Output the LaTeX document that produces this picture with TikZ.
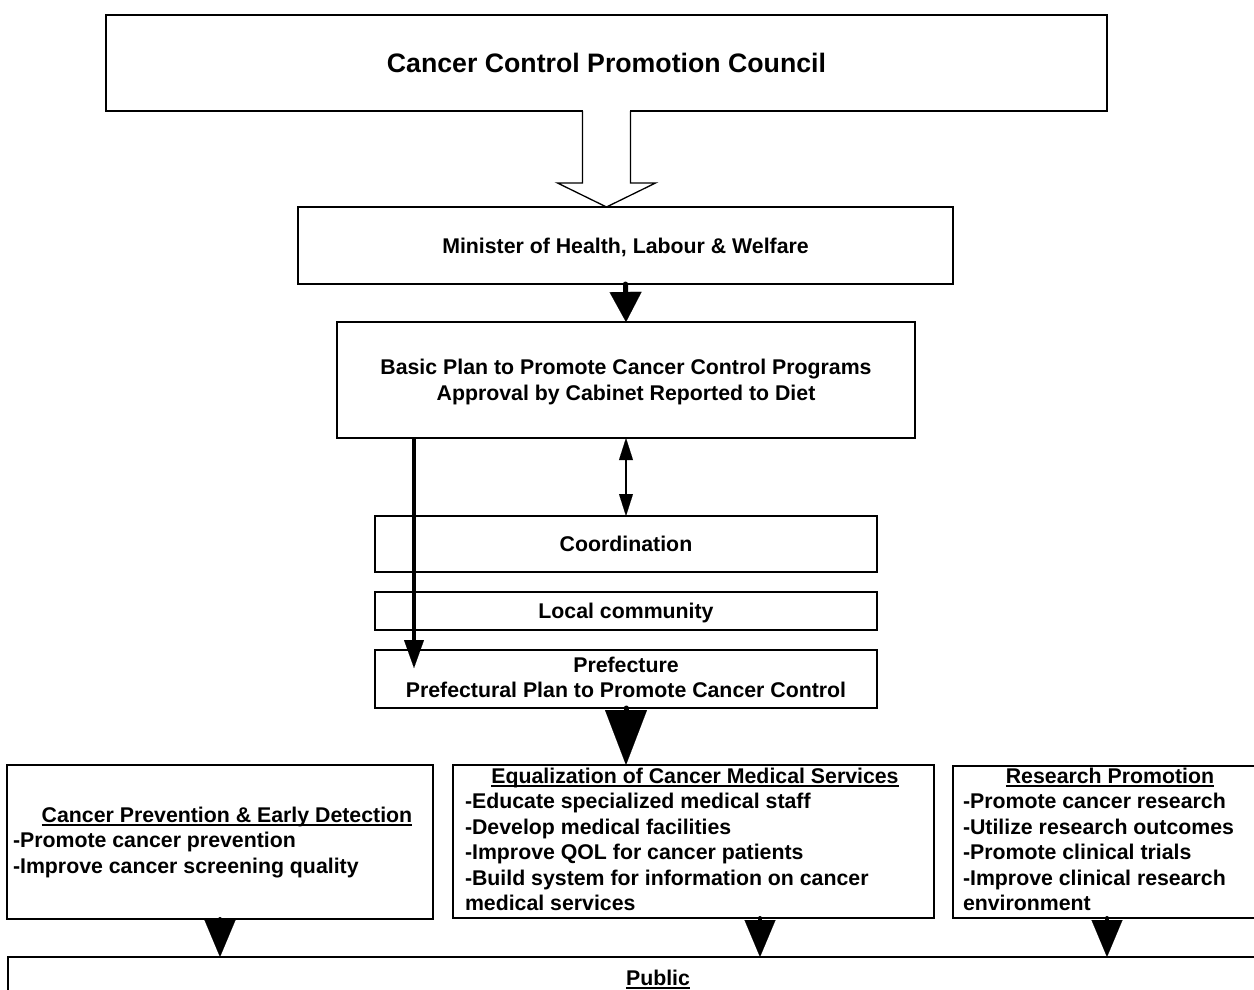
\documentclass[tikz,border=0pt]{standalone}
\usepackage{fontspec}
\setmainfont{Liberation Sans}
\usetikzlibrary{arrows.meta,calc}
\newcommand\myul[1]{\setbox0=\hbox{#1}\rlap{\rule[-3.5pt]{\wd0}{1.6pt}}\box0}
\tikzset{
  box/.style={draw, line width=1.3pt, inner sep=0pt, outer sep=0pt},
  txt/.style={inner sep=0pt, outer sep=0pt, font=\fontsize{21.3}{25}\selectfont\bfseries},
  bigtxt/.style={inner sep=0pt, outer sep=0pt, font=\fontsize{26.7}{32}\selectfont\bfseries}
}
\begin{document}
\begin{tikzpicture}[x=1pt,y=-1pt]
\useasboundingbox (0,0) rectangle (1254,989);
\clip (0,0) rectangle (1254,989);
% boxes
\node[box, minimum width=1001pt, minimum height=96pt] (council) at (606.5,63) {};
\node[box, minimum width=655pt, minimum height=77pt] (minister) at (625.5,245.5) {};
\node[box, minimum width=578pt, minimum height=116pt] (basic) at (626,380) {};
\node[box, minimum width=502pt, minimum height=56pt] (coord) at (626,544) {};
\node[box, minimum width=502pt, minimum height=38pt] (local) at (626,611) {};
\node[box, minimum width=502pt, minimum height=58pt] (pref) at (626,679) {};
\node[box, minimum width=426pt, minimum height=154pt] (lb) at (220,842) {};
\node[box, minimum width=481pt, minimum height=153pt] (mb) at (693.5,841.5) {};
\node[box, minimum width=307pt, minimum height=152pt] (rb) at (1106.5,842) {};
\node[box, minimum width=1260pt, minimum height=60pt] (pub) at (638,987) {};
% texts
\node[bigtxt, anchor=base] (councilt) at (606.5,72) {Cancer Control Promotion Council};
\node[txt, anchor=base] (ministert) at (625.5,253) {Minister of Health, Labour \& Welfare};
\node[txt, anchor=base] (basict1) at (626,374) {Basic Plan to Promote Cancer Control Programs};
\node[txt, anchor=base] (basict2) at (626,400) {Approval by Cabinet Reported to Diet};
\node[txt, anchor=base] (coordt) at (626,551) {Coordination};
\node[txt, anchor=base] (localt) at (626,618) {Local community};
\node[txt, anchor=base] (preft1) at (626,672) {Prefecture};
\node[txt, anchor=base] (preft2) at (626,697) {Prefectural Plan to Promote Cancer Control};
% left box
\node[txt, anchor=base] (lbt) at (227,822) {\myul{Cancer Prevention \& Early Detection}};
\node[txt, anchor=base west] (lb1) at (13,847.5) {-Promote cancer prevention};
\node[txt, anchor=base west] (lb2) at (13,873) {-Improve cancer screening quality};
% middle box
\node[txt, anchor=base] (mbt) at (695,783) {\myul{Equalization of Cancer Medical Services}};
\node[txt, anchor=base west] (mb1) at (465,808.5) {-Educate specialized medical staff};
\node[txt, anchor=base west] (mb2) at (465,834) {-Develop medical facilities};
\node[txt, anchor=base west] (mb3) at (465,859.5) {-Improve QOL for cancer patients};
\node[txt, anchor=base west] (mb4) at (465,885) {-Build system for information on cancer};
\node[txt, anchor=base west] (mb5) at (465,910.5) {medical services};
% right box
\node[txt, anchor=base] (rbt) at (1110,783) {\myul{Research Promotion}};
\node[txt, anchor=base west] (rb1) at (963,808.5) {-Promote cancer research};
\node[txt, anchor=base west] (rb2) at (963,834) {-Utilize research outcomes};
\node[txt, anchor=base west] (rb3) at (963,859.5) {-Promote clinical trials};
\node[txt, anchor=base west] (rb4) at (963,885) {-Improve clinical research};
\node[txt, anchor=base west] (rb5) at (963,910.5) {environment};
% public
\node[txt, anchor=base] (pubt) at (658,985) {\myul{Public}};
% hollow block arrow
\fill[white] ($(council.south)+(-23.4,-1.5)$) rectangle ($(council.south)+(23.4,2)$);
\draw[line width=1.3pt, line join=miter]
  ($(council.south)+(-24,0)$) -- ($(council.south)+(-24,72)$) -- ($(council.south)+(-49,72)$)
  -- (council.south |- minister.north) -- ($(council.south)+(49,72)$) -- ($(council.south)+(24,72)$)
  -- ($(council.south)+(24,0)$);
% minister -> basic
\draw[line width=5pt, line cap=round, -{Triangle[length=30pt, width=32pt, line width=0.1pt]}] (minister.south) -- (basic.north);
% double arrow
\draw[line width=1.3pt, {Triangle[length=22pt, width=14pt, line width=0.1pt]}-{Triangle[length=22pt, width=14pt, line width=0.1pt]}] (basic.south) -- (coord.north);
% left thick line to prefecture
\coordinate (ls) at ($(basic.south west)+(77,0)$);
\coordinate (le) at ($(pref.north west)+(39,18)$);
\draw[line width=4pt, -{Triangle[length=28pt, width=20pt, line width=0.1pt]}] (ls) -- (le);
% prefecture -> middle box
\draw[line width=5pt, line cap=round, -{Triangle[length=55pt, width=42pt, line width=0.1pt]}] (pref.south) -- (pref.south |- mb.north);
% bottom arrows
\coordinate (a1) at (lb.south);
\coordinate (a2) at ($(mb.south west)+(307,0)$);
\coordinate (a3) at ($(rb.south west)+(154,0)$);
\foreach \a in {a1,a2,a3}
  \draw[line width=4pt, line cap=round, -{Triangle[length=37pt, width=31pt, line width=0.1pt]}] (\a) -- (\a |- pub.north);
\end{tikzpicture}
\end{document}
